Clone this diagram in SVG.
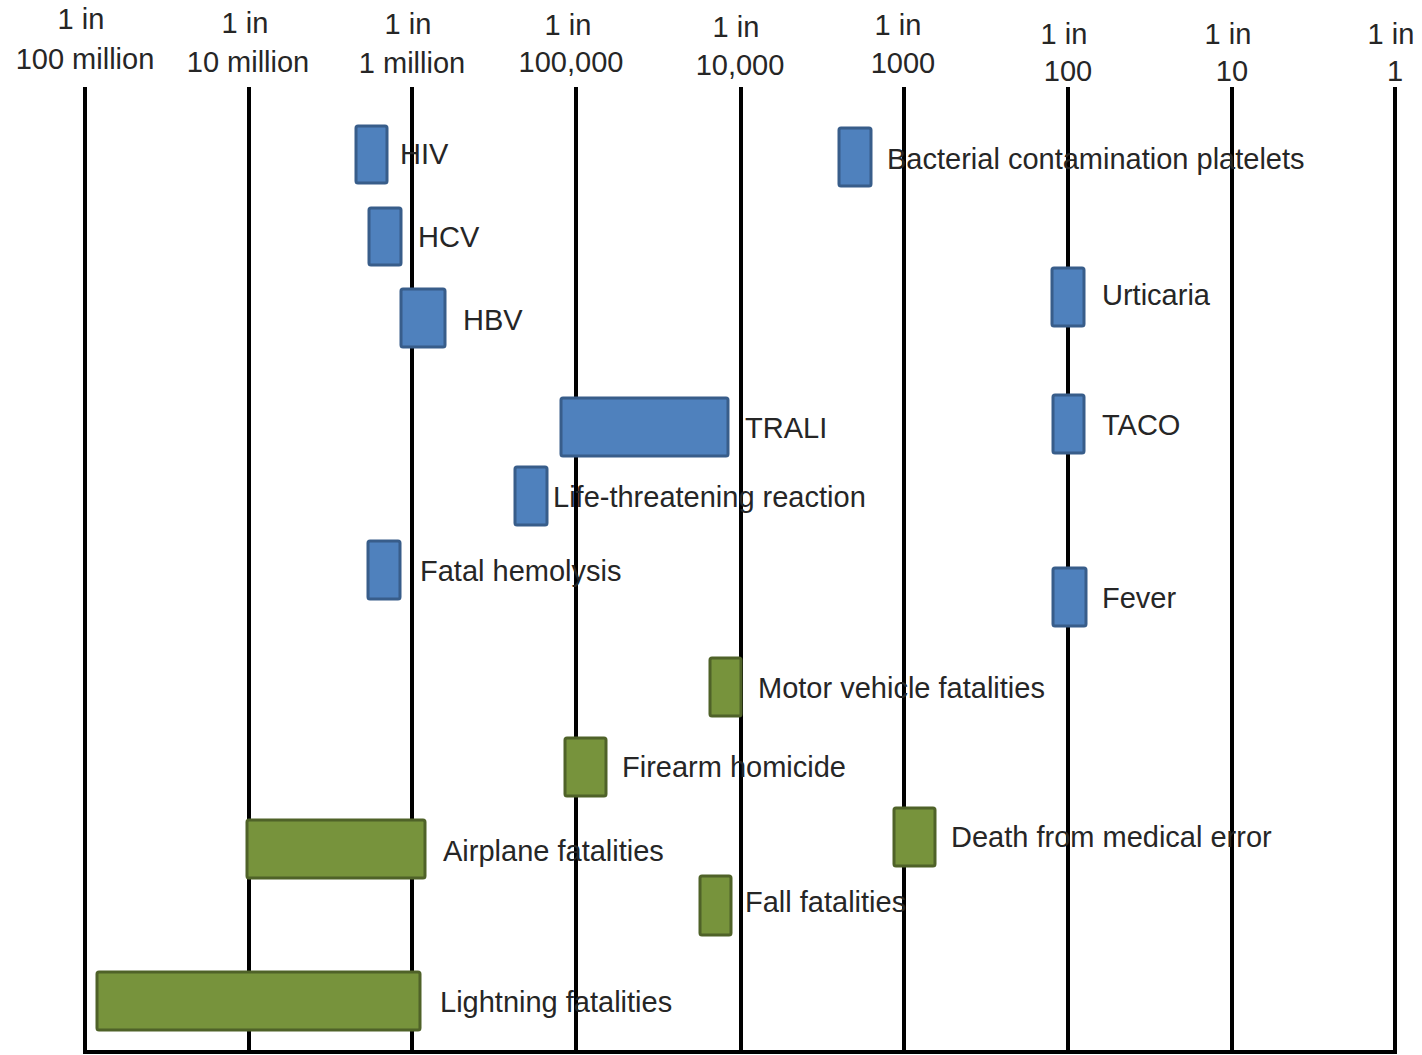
<svg xmlns="http://www.w3.org/2000/svg" width="1422" height="1055" viewBox="0 0 1422 1055">
<style>
text{font-family:"Liberation Sans",Arial,sans-serif;font-size:29px;fill:#262626}
.h{text-anchor:middle}
.grid line{stroke:#000;stroke-width:4}
.base{stroke:#555;stroke-width:2}
.b{fill:#4F81BD;stroke:#385D8A;stroke-width:3}
.g{fill:#77933C;stroke:#4F6228;stroke-width:3}
</style>
<rect width="1422" height="1055" fill="#fff"/>
<g id="axis-labels">
<text class="h" x="81" y="29">1 in</text><text class="h" x="85" y="69">100 million</text>
<text class="h" x="245" y="33">1 in</text><text class="h" x="248" y="72">10 million</text>
<text class="h" x="408" y="34">1 in</text><text class="h" x="412" y="73">1 million</text>
<text class="h" x="568" y="35">1 in</text><text class="h" x="571" y="72">100,000</text>
<text class="h" x="736" y="37">1 in</text><text class="h" x="740" y="75">10,000</text>
<text class="h" x="898" y="35">1 in</text><text class="h" x="903" y="73">1000</text>
<text class="h" x="1064" y="44">1 in</text><text class="h" x="1068" y="81">100</text>
<text class="h" x="1228" y="44">1 in</text><text class="h" x="1232" y="81">10</text>
<text class="h" x="1391" y="44">1 in</text><text class="h" x="1395" y="81">1</text>
</g>
<g id="connectors" class="grid">
<line x1="85" y1="87" x2="85" y2="1053"/>
<line x1="249" y1="87" x2="249" y2="1053"/>
<line x1="412" y1="87" x2="412" y2="1053"/>
<line x1="576" y1="87" x2="576" y2="1053"/>
<line x1="741" y1="87" x2="741" y2="1053"/>
<line x1="904" y1="87" x2="904" y2="1053"/>
<line x1="1068" y1="87" x2="1068" y2="1053"/>
<line x1="1232" y1="87" x2="1232" y2="1053"/>
<line x1="1395" y1="87" x2="1395" y2="1053"/>
<line class="base" x1="83" y1="1052" x2="1397" y2="1052"/>
</g>
<g id="hiv"><rect class="b" x="356" y="126" width="31" height="57" rx="2"/><text x="400" y="164">HIV</text></g>
<g id="hcv"><rect class="b" x="369" y="208" width="32" height="57" rx="2"/><text x="418" y="247">HCV</text></g>
<g id="hbv"><rect class="b" x="401" y="289" width="44" height="58" rx="2"/><text x="463" y="330">HBV</text></g>
<g id="bacterial"><rect class="b" x="839" y="128" width="32" height="58" rx="2"/><text x="887" y="169">Bacterial contamination platelets</text></g>
<g id="urticaria"><rect class="b" x="1052" y="268" width="32" height="58" rx="2"/><text x="1102" y="305">Urticaria</text></g>
<g id="trali"><rect class="b" x="561" y="398" width="167" height="58" rx="2"/><text x="745" y="438">TRALI</text></g>
<g id="taco"><rect class="b" x="1053" y="395" width="31" height="58" rx="2"/><text x="1102" y="435">TACO</text></g>
<g id="life"><rect class="b" x="515" y="467" width="32" height="58" rx="2"/><text x="553" y="507">Life-threatening reaction</text></g>
<g id="hemolysis"><rect class="b" x="368" y="541" width="32" height="58" rx="2"/><text x="420" y="581">Fatal hemolysis</text></g>
<g id="fever"><rect class="b" x="1053" y="568" width="33" height="58" rx="2"/><text x="1102" y="608">Fever</text></g>
<g id="motor"><rect class="g" x="710" y="658" width="31" height="58" rx="2"/><text x="758" y="698">Motor vehicle fatalities</text></g>
<g id="firearm"><rect class="g" x="565" y="738" width="41" height="58" rx="2"/><text x="622" y="777">Firearm homicide</text></g>
<g id="medical"><rect class="g" x="894" y="808" width="41" height="58" rx="2"/><text x="951" y="847">Death from medical error</text></g>
<g id="airplane"><rect class="g" x="247" y="820" width="178" height="58" rx="2"/><text x="443" y="861">Airplane fatalities</text></g>
<g id="fall"><rect class="g" x="700" y="876" width="31" height="59" rx="2"/><text x="745" y="912">Fall fatalities</text></g>
<g id="lightning"><rect class="g" x="97" y="972" width="323" height="58" rx="2"/><text x="440" y="1012">Lightning fatalities</text></g>
</svg>
